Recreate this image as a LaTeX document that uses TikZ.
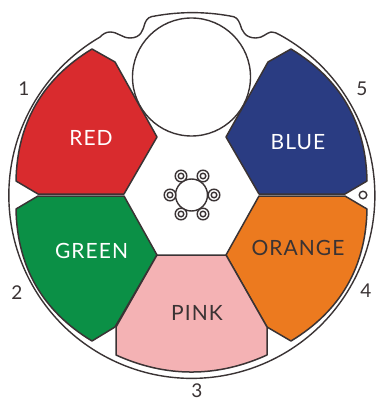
\documentclass[tikz,border=0pt]{standalone}
\usepackage{fontspec}
\setmainfont[LetterSpace=5]{Lato}
\newfontfamily\numfont{Lato}
\definecolor{ink}{HTML}{3A3334}
\definecolor{cred}{HTML}{D92B2E}
\definecolor{cgreen}{HTML}{0B9046}
\definecolor{cblue}{HTML}{2A3C82}
\definecolor{corange}{HTML}{EC7A1F}
\definecolor{cpink}{HTML}{F4B2B4}
\tikzset{
  seg/.style={draw=ink,line width=1.5pt,line join=round},
  rim/.style={draw=ink,line width=1.4pt},
  thin ring/.style={draw=ink,line width=1.4pt,fill=white},
  lab/.style={font=\fontsize{21}{23}\selectfont,inner sep=0pt},
  num/.style={font=\numfont\fontsize{19}{21}\selectfont,text=ink,inner sep=0pt}
}
\begin{document}
\begin{tikzpicture}[x=1pt,y=-1pt]
\useasboundingbox (0,0) rectangle (375,401);
\fill[white] (0,0) rectangle (375,401);
% outer rim
\draw[rim] (280,35) arc[start angle=-61.2,end angle=239.8,radius=183]
  .. controls (103,34) and (106,32) .. (110,32)
  .. controls (118,32) and (122,38) .. (130,38)
  .. controls (141,38) and (143,30) .. (145,23)
  .. controls (147,18) and (150,16.5) .. (155,16)
  .. controls (180,11.5) and (205,11.5) .. (230,16)
  .. controls (236,16.5) and (238,19) .. (240,24)
  .. controls (242,31) and (245,38) .. (256,38)
  .. controls (263,38) and (266,33) .. (271,32)
  .. controls (274,31.5) and (277,33.5) .. (280,35) -- cycle;
% large port
\draw[rim] (191.5,77) circle[radius=59];
% segments
\draw[seg,fill=cred] (157,137) -- (124,194) -- (38,194) -- (16,181)
  .. controls (17.1,123) and (42.5,79) .. (92,49) -- (115,62) -- cycle;
\draw[seg,fill=cgreen] (157,255) -- (124,196) -- (38,196) -- (16,209)
  .. controls (17.1,267) and (42.5,311) .. (92,341) -- (115,327) -- cycle;
\draw[seg,fill=cblue] (226,137) -- (259,194) -- (345,194) -- (367,181)
  .. controls (365.9,123) and (340.5,79) .. (291,49) -- (268,62) -- cycle;
\draw[seg,fill=corange] (226,255) -- (259,196) -- (345,196) -- (367,209)
  .. controls (365.9,267) and (340.5,311) .. (291,341) -- (267,327) -- cycle;
\draw[seg,fill=cpink] (157,255) -- (226,255) -- (267,327) -- (267,355)
  .. controls (217,377.7) and (166,377.7) .. (116,355) -- (116,327) -- cycle;
% small mark
\draw[rim,fill=white] (363,195) circle[radius=3.8];
% bolt pattern
\draw[thin ring] (191.5,195) circle[radius=16];
\foreach \n/\cx/\cy in {a/181/176,b/203/176,c/170/195,d/214/195,e/181/214,f/203/214}{
  \draw[thin ring] (\cx,\cy) circle[radius=5.8];
  \draw[thin ring] (\cx,\cy) circle[radius=2.8];
}
% labels
\node[lab,text=white] (red) at (91,137.5) {RED};
\node[lab,text=white] (green) at (91.5,250.5) {GREEN};
\node[lab,text=white] (blue) at (298,142) {BLUE};
\node[lab,text=ink] (orange) at (298,248) {ORANGE};
\node[lab,text=ink] (pink) at (197,313) {PINK};
\node[num] (n1) at (24,89) {1};
\node[num] (n2) at (17,293) {2};
\node[num] (n3) at (197,391) {3};
\node[num] (n4) at (366,291) {4};
\node[num] (n5) at (362,89) {5};
\end{tikzpicture}
\end{document}
